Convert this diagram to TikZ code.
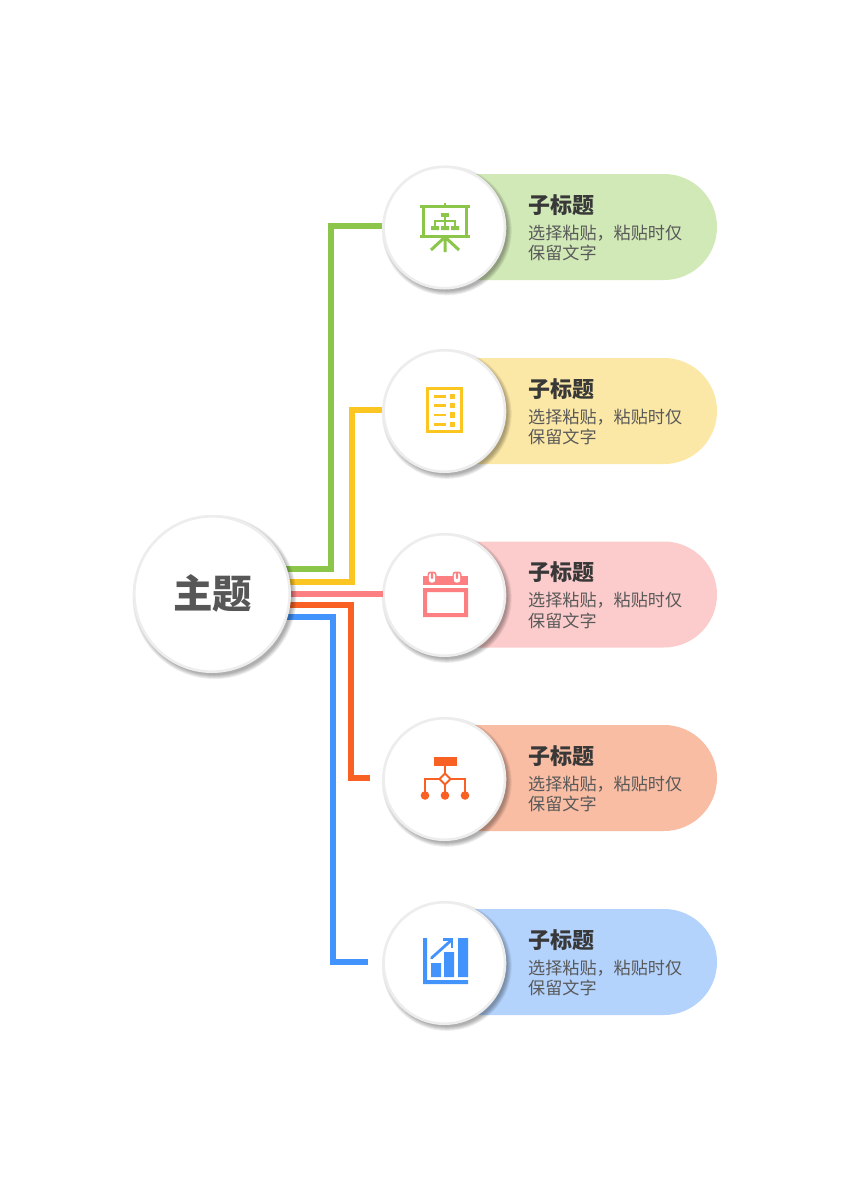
\documentclass[tikz,border=0pt]{standalone}
\usepackage{fontspec}
\setmainfont{Noto Sans CJK SC}
\definecolor{cg}{HTML}{8BC64B}\definecolor{pg}{HTML}{D1E8B7}
\definecolor{cy}{HTML}{FBC522}\definecolor{py}{HTML}{FCE8A6}
\definecolor{cp}{HTML}{FC8081}\definecolor{pp}{HTML}{FCCCCC}
\definecolor{co}{HTML}{F96124}\definecolor{po}{HTML}{F9BDA4}
\definecolor{cb}{HTML}{4294FC}\definecolor{pb}{HTML}{B3D2FC}
\definecolor{ringc}{HTML}{EDEDED}
\tikzset{
  conn/.style={line width=6pt,line join=miter,line cap=butt},
  bigdisc/.style={circle,fill=white,draw=ringc,line width=2.6pt,minimum size=155.4pt,inner sep=0pt},
  smalldisc/.style={circle,fill=white,draw=ringc,line width=2.6pt,minimum size=121.4pt,inner sep=0pt},
  titletext/.style={anchor=west,inner sep=0pt,text=black!78,font=\fontsize{22}{24}\selectfont\bfseries},
  bodytext/.style={anchor=west,inner sep=0pt,align=left,text=black!65,font=\fontsize{17.1}{20.7}\selectfont},
}
\newcommand{\softshadow}[3]{%
  \foreach \dr in {3,2,1,0,-1}
    \fill[black,opacity=0.07] (#1+2.5,#2+3) circle ({#3+\dr});}
% name, pill/text y, pill colour, disc y
\newcommand{\rowitem}[4]{%
  \fill[#3] (445,#2-53) -- (664,#2-53) arc[start angle=-90,end angle=90,radius=53] -- (445,#2+53) -- cycle;
  \softshadow{444.3}{#4}{61.8}
  \node[smalldisc] (c#1) at (444.3,#4) {};
  \node[titletext] (t#1) at (528,#2-22) {子标题};
  \node[bodytext] (b#1) at (528,#2+16) {选择粘贴，粘贴时仅\\保留文字};
}
\begin{document}
\begin{tikzpicture}[x=1pt,y=-1pt]
\useasboundingbox (0,0) rectangle (848,1200);
\fill[white] (0,0) rectangle (848,1200);
% rows
\rowitem{1}{227}{pg}{227.5}
\rowitem{2}{411}{py}{411}
\rowitem{3}{594.5}{pp}{595}
\rowitem{4}{778}{po}{779}
\rowitem{5}{962}{pb}{963}
% connectors
\coordinate (s1) at (212,569);
\coordinate (s2) at (212,582);
\coordinate (s3) at (212,594);
\coordinate (s4) at (212,605);
\coordinate (s5) at (212,617);
\coordinate (j1) at (331,400);
\coordinate (j2) at (352,500);
\coordinate (j4) at (351,700);
\coordinate (j5) at (333,800);
\coordinate (e1) at (382,226);
\coordinate (e2) at (382,410);
\coordinate (e3) at (383,594);
\coordinate (e4) at (370,778);
\coordinate (e5) at (368,962);
\draw[conn,cg] (s1) -| (j1) |- (e1);
\draw[conn,cy] (s2) -| (j2) |- (e2);
\draw[conn,cp] (s3) -- (e3);
\draw[conn,co] (s4) -| (j4) |- (e4);
\draw[conn,cb] (s5) -| (j5) |- (e5);
% central disc
\softshadow{212}{594}{79}
\node[bigdisc] (main) at (212,594) {};
\node[inner sep=0pt,text=black!66,font=\fontsize{39.5}{41}\selectfont\bfseries] (maintext) at (212.5,593) {主题};
% icon 1: presentation board
\begin{scope}[cg]
\draw[line width=3pt] (420,206.5) -- (470,206.5) (420,236.5) -- (470,236.5);
\draw[line width=3pt] (423.5,206.5) -- (423.5,236.5) (466.5,206.5) -- (466.5,236.5);
\draw[line width=2.5pt] (445,203) -- (445,206);
\draw[line width=3pt] (445,237) -- (445,252) (445,237) -- (431,250) (445,237) -- (459,250);
\fill (441,212.5) rectangle (449,216.5);
\draw[line width=1.3pt] (445,216) -- (445,222) (435,226) |- (455,221) -- (455,226) (445,221) -- (445,226);
\fill (431,226) rectangle (439,230) (441,226) rectangle (449,230) (451,226) rectangle (459,230);
\end{scope}
% icon 2: list
\begin{scope}[cy]
\draw[line width=3.4pt] (427.7,388.7) rectangle (461.3,431.3);
\foreach \yy in {396.5,405.5,415,424.5}{
  \fill (434,\yy-1.3) rectangle (446,\yy+1.3);
  \fill (450,\yy-2.7) rectangle (455,\yy+2.7);
}
\end{scope}
% icon 3: calendar
\begin{scope}[cp]
\fill (423,576) rectangle (468,585);
\fill[even odd rule] (423,588) rectangle (468,617) (427,592) rectangle (464,613);
\foreach \xx in {432,457}{
  \fill[rounded corners=3pt] (\xx-4.5,571.5) rectangle (\xx+4.5,583);
  \fill[white,rounded corners=2.5pt] (\xx-3.2,573) rectangle (\xx+3.2,582.5);
  \fill[rounded corners=1pt] (\xx-1.2,572) rectangle (\xx+1.2,579);
}
\end{scope}
% icon 4: hierarchy
\begin{scope}[co]
\fill (434,757) rectangle (456.5,766);
\draw[line width=2.8pt] (445,766) -- (445,774) (445,784) -- (445,792);
\draw[line width=2.8pt] (425,792) |- (440,779) (450,779) -| (465,792);
\draw[line width=2pt,fill=white] (445,773.5) -- (450.5,779) -- (445,784.5) -- (439.5,779) -- cycle;
\fill (425,795.5) circle (4.3) (445,795.5) circle (4.3) (465,795.5) circle (4.3);
\end{scope}
% icon 5: chart
\begin{scope}[cb]
\fill (423,938) rectangle (427,984) (423,980) rectangle (468,984);
\fill (431,963) rectangle (441,977) (444,952) rectangle (454,977) (458,938) rectangle (468,977);
\draw[line width=2.8pt,line cap=round] (431.5,958) -- (451,940.5);
\draw[line width=2.8pt] (443,939.5) -- (452,939.5) -- (452,948);
\end{scope}
\end{tikzpicture}
\end{document}
